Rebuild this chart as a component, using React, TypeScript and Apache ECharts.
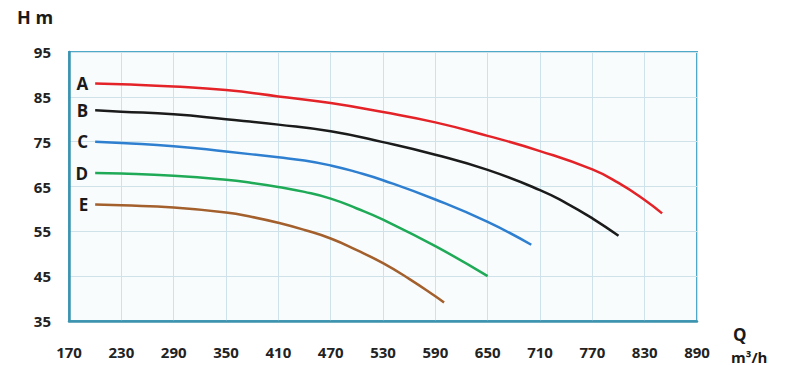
import React, { useEffect, useRef } from "react";
import * as echarts from "echarts";

const xTicks = [170, 230, 290, 350, 410, 470, 530, 590, 650, 710, 770, 830, 890];
const yTicks = [35, 45, 55, 65, 75, 85, 95];

const curveNames = ["A", "B", "C", "D", "E"];
const curveColors = ["#e42328", "#1b1b1b", "#2e7fd0", "#1faa57", "#a35f2c"];

const qA = [200, 230, 290, 350, 410, 470, 530, 590, 650, 710, 770, 800, 830, 850];
const hA = [88, 87.8, 87.3, 86.5, 85.1, 83.6, 81.6, 79.3, 76.3, 72.9, 68.8, 65.8, 62.0, 59.0];

const qB = [200, 230, 290, 350, 410, 470, 530, 590, 650, 710, 740, 770, 800];
const hB = [82, 81.7, 81.1, 80, 78.8, 77.3, 74.9, 72.1, 68.7, 64.2, 61.3, 57.9, 54];

const qC = [200, 230, 290, 350, 410, 440, 470, 500, 530, 590, 650, 700];
const hC = [75, 74.7, 74, 72.8, 71.5, 70.8, 69.7, 68.2, 66.4, 62.1, 57.1, 52];

const qD = [200, 230, 290, 350, 380, 410, 440, 470, 500, 530, 590, 650];
const hD = [68, 67.9, 67.4, 66.5, 65.8, 64.9, 63.8, 62.3, 60.1, 57.6, 51.7, 45];

const qE = [200, 230, 290, 350, 380, 410, 440, 470, 500, 530, 560, 590, 600];
const hE = [61, 60.8, 60.3, 59.2, 58.2, 56.9, 55.3, 53.4, 50.8, 47.9, 44.4, 40.5, 39.1];

const allQ = [qA, qB, qC, qD, qE];
const allH = [hA, hB, hC, hD, hE];

const FONT = "'Open Sans', 'Noto Sans', sans-serif";

export default function App() {
  const ref = useRef<HTMLDivElement>(null);

  useEffect(() => {
    if (!ref.current) return;
    const chart = echarts.init(ref.current, null, { renderer: "svg" });

    const series = curveNames.map((name, i) => ({
      name,
      type: "line",
      smooth: 0.5,
      symbol: "circle",
      symbolSize: 0,
      showSymbol: true,
      lineStyle: { color: curveColors[i], width: 2.5 },
      itemStyle: { color: curveColors[i] },
      data: allQ[i].map((q, j) =>
        j === 0
          ? {
              value: [q, allH[i][j]],
              label: {
                show: true,
                position: "left",
                distance: 7,
                formatter: name,
                color: "#1a1a1a",
                fontFamily: FONT,
                fontWeight: "bold",
                fontSize: 17,
              },
            }
          : { value: [q, allH[i][j]] }
      ),
      z: 3,
    }));

    chart.setOption({
      animation: false,
      backgroundColor: "#ffffff",
      grid: {
        left: 69,
        top: 52,
        right: 98,
        bottom: 44,
        show: true,
        backgroundColor: "#f8fcfd",
        borderColor: "#4ea9c9",
        borderWidth: 2,
      },
      xAxis: {
        type: "value",
        min: xTicks[0],
        max: xTicks[xTicks.length - 1],
        interval: 60,
        axisLine: { show: true, lineStyle: { color: "#3d93ad", width: 2.5 } },
        axisTick: { show: false },
        splitLine: { show: true, lineStyle: { color: "#cfe2e9", width: 1 } },
        axisLabel: {
          margin: 23,
          color: "#222",
          fontFamily: FONT,
          fontWeight: "bold",
          fontSize: 15,
        },
      },
      yAxis: {
        type: "value",
        min: yTicks[0],
        max: yTicks[yTicks.length - 1],
        interval: 10,
        axisLine: { show: true, lineStyle: { color: "#3d93ad", width: 2.5 } },
        axisTick: { show: false },
        splitLine: { show: true, lineStyle: { color: "#cfe2e9", width: 1 } },
        axisLabel: {
          margin: 18,
          color: "#222",
          fontFamily: FONT,
          fontWeight: "bold",
          fontSize: 15,
        },
      },
      graphic: [
        {
          type: "text",
          left: 17,
          top: 8,
          style: {
            text: "H m",
            fill: "#1a1a1a",
            font: `bold 18px ${FONT}`,
          },
        },
        {
          type: "text",
          left: 733,
          top: 326,
          style: {
            text: "Q",
            fill: "#1a1a1a",
            font: `bold 17px ${FONT}`,
          },
        },
        {
          type: "text",
          left: 731,
          top: 349,
          style: {
            text: "m³/h",
            fill: "#1a1a1a",
            font: `bold 15px ${FONT}`,
          },
        },
      ],
      series,
    });

    return () => chart.dispose();
  }, []);

  return (
    <div
      ref={ref}
      style={{ position: "absolute", left: 0, top: 0, width: 795, height: 365 }}
    />
  );
}
